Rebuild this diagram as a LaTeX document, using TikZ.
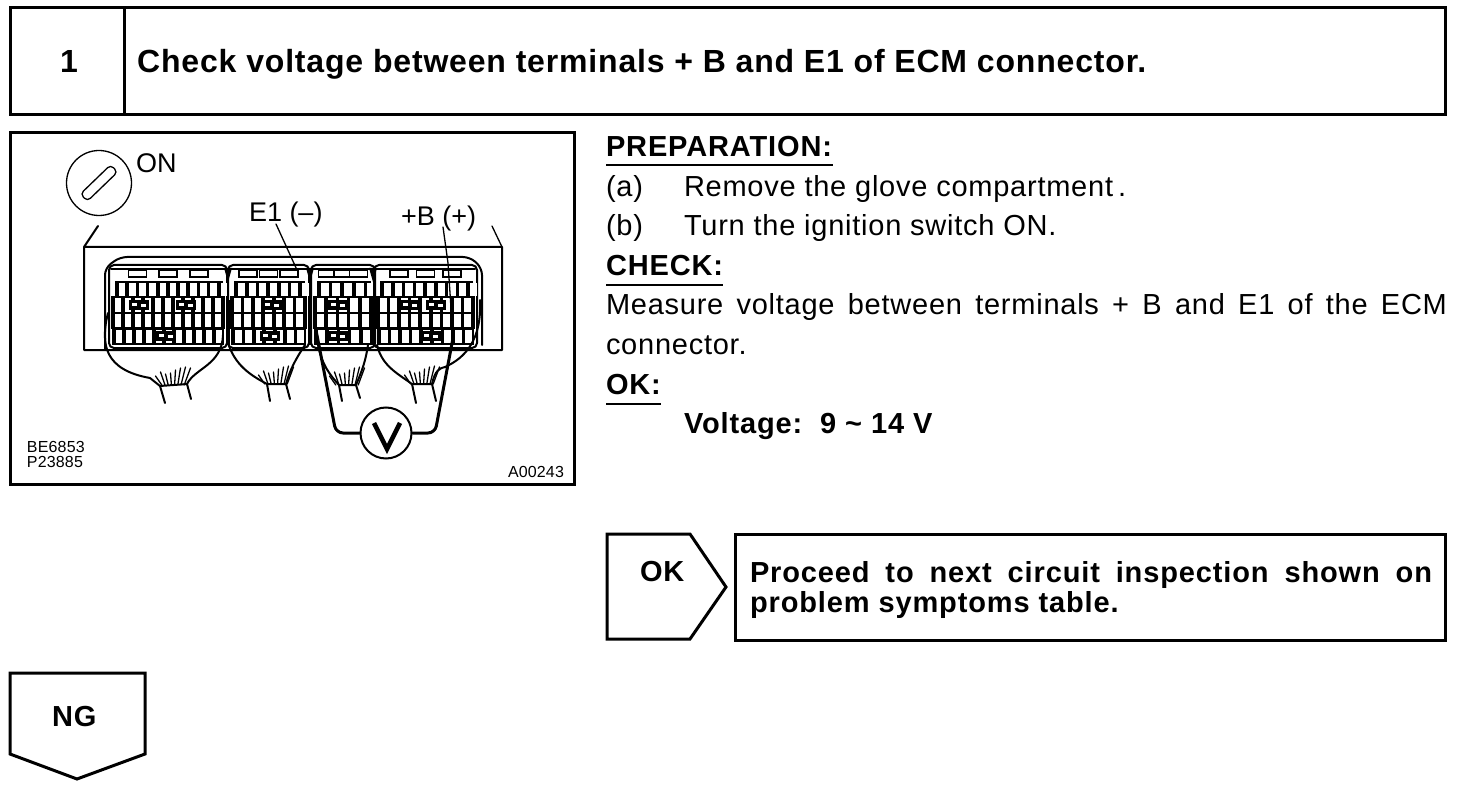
\documentclass[tikz,border=0pt]{standalone}
\usepackage{fontspec}
\setmainfont{Liberation Sans}
\newcommand{\fsz}[1]{\fontsize{#1pt}{#1pt}\selectfont}
\newcommand{\lsp}[1]{\addfontfeature{LetterSpace=#1}}
% row of terminal cells: x0,x1,y0,y1,n
\newcommand{\cellrow}[5]{%
  \fill[black] (#1-2,#3-2) rectangle (#2+2,#4+2);
  \pgfmathsetmacro{\cw}{(#2-#1)/#5}
  \foreach \ci in {1,...,#5}{
    \fill[white] ({#1+(\ci-1)*\cw+1.8},#3) rectangle ({#1+\ci*\cw-1.8},#4);
  }}
% module: x0,x1, n1,n2,n3,n4
\newcommand{\cmodule}[6]{%
  \draw[med line,rounded corners=5pt] (#1-4,265) rectangle (#2+4,348);
  \draw[med line] (#1-2,269) -- (#2+2,269);
  \cellrow{#1+4}{#2-2}{283}{296}{#3}
  \cellrow{#1}{#2}{298}{312}{#4}
  \cellrow{#1}{#2}{314}{327}{#5}
  \cellrow{#1+1}{#2-1}{330}{343}{#6}
  \foreach \q in {0.22,0.5,0.78}{
    \fill[white,draw=black,line width=1.4pt] ({#1+\q*(#2-#1)-9},270.5) rectangle ({#1+\q*(#2-#1)+9},277);
  }}
% harness strands: apex x, y
\newcommand{\strands}[2]{%
  \foreach \dx/\dy in {-14/-9,-10/-13,-6/-11,-2/-12,2/-15,6/-17,10/-18,14/-17}{
    \draw[thin line] (#1+\dx*0.8,#2) -- (#1+\dx*1.25,#2+\dy);
  }}
\tikzset{
  box/.style={draw=black,line width=3pt,line join=miter,outer sep=0pt},
  thin line/.style={draw=black,line width=1.3pt,line cap=round,line join=round},
  med line/.style={draw=black,line width=2pt,line cap=round,line join=round},
  lead/.style={draw=black,line width=3pt,line cap=round,line join=round},
  rule line/.style={draw=black,line width=1.5pt},
  body/.style={anchor=base west,inner sep=0pt,outer sep=0pt,font=\fsz{29}\lsp{2.6}},
  bodyb/.style={anchor=base west,inner sep=0pt,outer sep=0pt,font=\fsz{29}\bfseries\lsp{3}},
  tiny/.style={anchor=base west,inner sep=0pt,outer sep=0pt,font=\fsz{16}\lsp{1}},
  lab/.style={anchor=base west,inner sep=0pt,outer sep=0pt,font=\fsz{27}},
}
\begin{document}
\begin{tikzpicture}[x=1pt,y=-1pt]
\useasboundingbox (0,0) rectangle (1472,786);
\fill[white] (0,0) rectangle (1472,786);
% header
\node[box,rectangle,inner sep=0pt,anchor=north west,minimum width=1435pt,minimum height=107pt] (header) at (10,8) {};
\draw[box] (124,8) -- (124,115);
\node[anchor=base,inner sep=0pt,font=\fsz{32}\bfseries] (num) at (69,73) {1};
\node[anchor=base west,inner sep=0pt,font=\fsz{32}\bfseries\lsp{2.6}] (title) at (137,73) {Check voltage between terminals + B and E1 of ECM connector.};
% illustration frame
\node[box,rectangle,inner sep=0pt,anchor=north west,minimum width=564pt,minimum height=351pt] (frame) at (10,133) {};
% key
\node[circle,thin line,draw,minimum size=65pt,inner sep=0pt] (key) at (99,183) {};
\draw[thin line,rounded corners=4pt,rotate around={44:(99,183)}] (78,178) rectangle (120,188);
\node[lab] (on) at (136,173) {ON};
\node[lab] (e1) at (249,222) {E1 (–)};
\node[lab] (bp) at (401,226) {+B (+)};
% housing
\draw[med line] (98,226) -- (84,247) -- (84,350) -- (502,350) -- (502,247) -- (84,247);
\draw[thin line] (492,226) -- (502,247);
\draw[med line,rounded corners=7pt] (105,350) -- (105,268) -- (120,257) -- (470,257) -- (482,268) -- (482,345);
% modules
\cmodule{113}{223}{11}{11}{11}{11}
\cmodule{232}{305}{7}{7}{7}{7}
\cmodule{315}{371}{5}{5}{5}{5}
\cmodule{378}{473}{9}{9}{9}{9}
% latch triangles between modules
\foreach \tx in {228,310,373}{
  \fill[black] (\tx-4,268) -- (\tx+4,268) -- (\tx,282) -- cycle;
  \fill[black] (\tx-1.5,300) rectangle (\tx+1.5,345);
}
% dark lock blocks
\foreach \lx/\ly in {139/305,186/305,166/336,272/305,270/336,338/305,338/336,410/305,436/305,431/336}{
  \fill[black] (\lx-10,\ly-5) rectangle (\lx+10,\ly+5);
  \fill[white] (\lx-7,\ly-2) rectangle (\lx-2,\ly+1);
  \fill[white] (\lx+2,\ly-1) rectangle (\lx+7,\ly+2);
}
% harnesses
\draw[med line] (108,313) .. controls (100,345) and (105,370) .. (150,378) -- (160,386) -- (187,384) .. controls (195,368) and (222,365) .. (223,335);
\strands{173}{385}
\draw[med line] (160,386) -- (165,403);
\draw[med line] (187,384) -- (191,399);
\draw[med line] (228,343) .. controls (235,365) and (250,375) .. (267,384) -- (286,384) .. controls (290,370) and (295,360) .. (305,345);
\strands{276}{384}
\draw[med line] (267,384) -- (270,401);
\draw[med line] (286,384) -- (290,399);
\draw[med line] (318,345) .. controls (322,365) and (330,375) .. (339,385) -- (356,385) .. controls (360,375) and (365,365) .. (368,345);
\strands{347}{385}
\draw[med line] (339,385) -- (342,401);
\draw[med line] (356,385) -- (360,398);
\draw[med line] (377,345) .. controls (382,365) and (395,372) .. (412,384) -- (432,384) .. controls (435,370) and (440,368) .. (445,367) .. controls (465,358) and (482,340) .. (480,300);
\strands{422}{384}
\draw[med line] (412,384) -- (416,403);
\draw[med line] (432,384) -- (436,401);
% pointer lines
\coordinate (e1a) at (276,224);
\coordinate (e1b) at (297,270);
\coordinate (bpa) at (443,227);
\coordinate (bpb) at (453,338);
\coordinate (lefttip) at (315,325);
\draw[thin line] (e1a) -- (e1b);
\draw[thin line] (bpa) -- (448,263) -- (bpb);
% voltmeter
\node[circle,draw=black,line width=2pt,fill=white,minimum size=51pt,inner sep=0pt] (vm) at (386,433) {};
\draw[draw=black,line width=4.5pt,line join=miter] (374,423) -- (387,449) -- (400,423);
\draw[lead,rounded corners=7pt] (vm.west) -- (336,433) -- (lefttip);
\draw[lead,rounded corners=7pt] (vm.east) -- (435,433) -- (bpb);
% tiny labels
\node[tiny] (bm1) at (27,452) {BE6853};
\node[tiny] (bm2) at (27,467) {P23885};
\node[tiny] (bm3) at (508,477) {A00243};
% instructions
\node[bodyb] (prep) at (606,157) {PREPARATION:};
\draw[rule line] (606,165) -- (833,165);
\node[body] (a1) at (606,197) {(a)};
\node[body] (a2) at (684,197) {Remove the glove compartment\kern5pt.};
\node[body] (b1) at (606,236) {(b)};
\node[body] (b2) at (684,236) {Turn the ignition switch ON.};
\node[bodyb] (check) at (606,276) {CHECK:};
\draw[rule line] (606,285) -- (723,285);
\node[body] (m1) at (606,315) {\makebox[841pt][s]{Measure voltage between terminals + B and E1 of the ECM}};
\node[body] (m2) at (606,354) {connector.};
\node[bodyb] (okh) at (606,394) {OK:};
\draw[rule line] (606,404) -- (661,404);
\node[bodyb] (volt) at (684,433) {Voltage:\ \ 9 \char"7E\ 14 V};
% OK pentagon
\draw[box] (607,534) -- (690,534) -- (726,587) -- (690,639) -- (607,639) -- cycle;
\node[bodyb] (ok) at (640,581) {OK};
\node[box,rectangle,inner sep=0pt,anchor=north west,minimum width=710pt,minimum height=106pt] (next) at (735,534) {};
\node[bodyb] (n1) at (750,582) {\makebox[682pt][s]{Proceed to next circuit inspection shown on}};
\node[bodyb] (n2) at (750,612) {problem symptoms table.};
% NG pentagon
\draw[box] (10,673) -- (145,673) -- (145,754) -- (77,779) -- (10,754) -- cycle;
\node[bodyb] (ng) at (52,726) {NG};
\end{tikzpicture}
\end{document}
